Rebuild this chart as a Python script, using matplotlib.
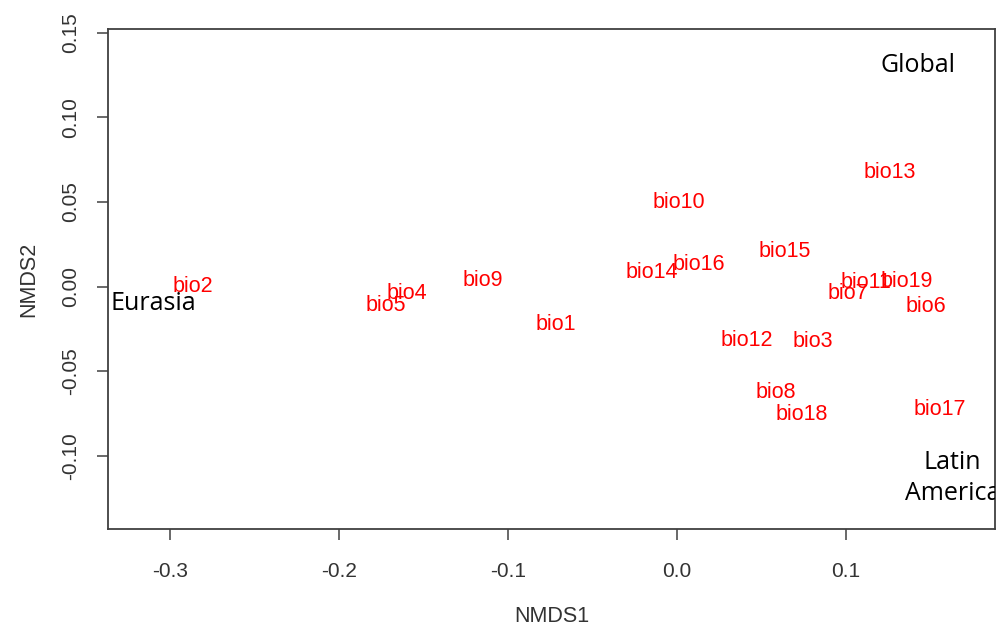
import matplotlib
matplotlib.use("Agg")
import matplotlib.pyplot as plt

# NMDS scores of the bioclim variables (label centres)
bio_names = ["bio1", "bio2", "bio3", "bio4", "bio5", "bio6", "bio7", "bio8",
             "bio9", "bio10", "bio11", "bio12", "bio13", "bio14", "bio15",
             "bio16", "bio17", "bio18", "bio19"]
bio_x = [-0.0716, -0.2864, 0.0805, -0.1598, -0.1722, 0.1473, 0.1012, 0.0586,
         -0.1148, 0.0012, 0.1118, 0.0414, 0.1260, -0.0148, 0.0639,
         0.0130, 0.1556, 0.0740, 0.1361]
bio_y = [-0.0224, 0.0000, -0.0325, -0.0041, -0.0112, -0.0118, -0.0041, -0.0625,
         0.0035, 0.0496, 0.0024, -0.0319, 0.0673, 0.0083, 0.0207,
         0.0130, -0.0726, -0.0755, 0.0030]

# region labels
region_names = ["Global", "Eurasia", "Latin\nAmerica"]
region_x = [0.1426, -0.3101, 0.1630]
region_y = [0.1304, -0.0100, -0.1133]

x_ticks = [-0.3, -0.2, -0.1, 0.0, 0.1]
y_ticks = [-0.10, -0.05, 0.00, 0.05, 0.10, 0.15]


def main():
    fig = plt.figure(figsize=(9.98, 6.29), dpi=100)
    ax = fig.add_axes([0.1082, 0.159, 0.997 - 0.1082, 0.9539 - 0.159])

    for name, x, y in zip(bio_names, bio_x, bio_y):
        ax.text(x, y, name, color="red", fontsize=15.5, family="Liberation Sans",
                ha="center", va="center", clip_on=True)
    for name, x, y in zip(region_names, region_x, region_y):
        ax.text(x, y, name, color="black", fontsize=18, family="Open Sans",
                ha="center", va="center", clip_on=True, linespacing=1.3)

    ax.set_xlim(-0.3367, 0.1882)
    ax.set_ylim(-0.1433, 0.1522)

    ax.set_xticks(x_ticks)
    ax.set_xticklabels(["%.1f" % v for v in x_ticks])
    ax.set_yticks(y_ticks)
    ax.set_yticklabels(["%.2f" % v for v in y_ticks], rotation=90, va="center")

    for s in ax.spines.values():
        s.set_color("#404040")
        s.set_linewidth(1.3)
    ax.tick_params(length=8, width=1.1, color="#404040", labelsize=15,
                   labelcolor="#333333")
    ax.tick_params(axis="x", pad=16)
    ax.tick_params(axis="y", pad=12)
    for lab in ax.get_xticklabels() + ax.get_yticklabels():
        lab.set_family("Liberation Sans")

    ax.set_xlabel("NMDS1", fontsize=15.5, family="Liberation Sans", color="#333333",
                  labelpad=18)
    ax.set_ylabel("NMDS2", fontsize=15.5, family="Liberation Sans", color="#333333",
                  labelpad=16)

    fig.savefig("out.png", dpi=100)


if __name__ == "__main__":
    main()
